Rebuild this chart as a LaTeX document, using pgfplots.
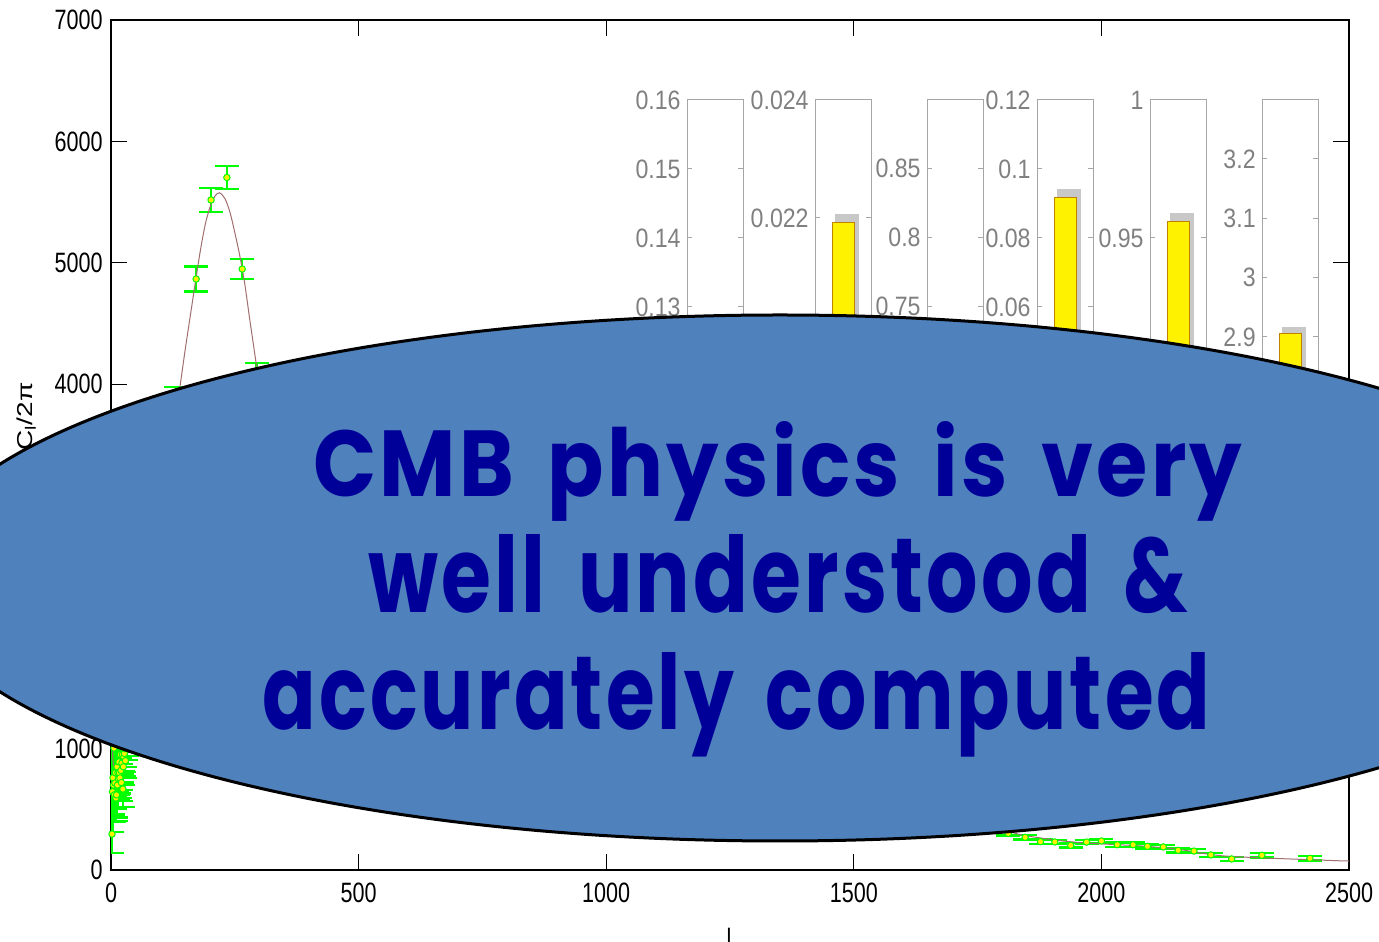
\documentclass[border=0pt]{standalone}
\usepackage{pgfplots}
\usepackage{pgfplotstable}
\pgfplotsset{compat=1.18}
\usepackage{graphicx}
\usepackage{fontspec}
\setmainfont{Liberation Sans}
\newfontfamily\narrowfont[FakeStretch=0.77]{Liberation Sans}
\newfontfamily\insetfont[FakeStretch=0.87]{Liberation Sans}
\newfontfamily\comicfont[LetterSpace=4, WordSpace=1.6]{Poppins}
\definecolor{ellblue}{HTML}{4F81BD}
\definecolor{txtblue}{HTML}{000099}
\definecolor{errgreen}{HTML}{00FF00}
\definecolor{theory}{HTML}{A06E6E}
\definecolor{boxgray}{HTML}{A6A6A6}
\definecolor{labgray}{HTML}{808080}
\definecolor{shadowgray}{HTML}{C8C8C8}
\definecolor{barborder}{HTML}{C08000}

\pgfplotstableread{
l D e
2 296 156
3 644 330
4 760 300
5 700 260
6 1004 280
7 620 220
8 716 210
9 800 200
10 593 190
11 618 185
12 850 200
13 700 180
14 800 180
15 750 175
16 890 180
17 800 170
18 758 165
19 950 170
20 820 160
21 720 155
22 880 160
23 950 160
24 667 150
25 850 150
26 930 155
27 960 150
28 1000 150
29 900 145
30 1050 145
32 1080 140
40 1230 120
70 1900 110
100 2750 100
131 3880 100
172 4867 103
202 5518 99
234 5703 95
265 4949 82
294 4080 95
325 3250 80
355 2560 70
385 2050 60
415 1820 55
445 1850 55
475 2080 60
505 2330 65
535 2500 65
565 2470 70
595 2230 70
625 1980 70
655 1800 70
685 1790 75
715 1900 80
745 2090 85
775 2250 90
805 2300 95
835 2220 100
865 2070 100
895 1700 100
925 1450 100
955 1230 100
985 1100 100
1015 1040 90
1045 1080 90
1075 1150 90
1105 1190 90
1135 1180 90
1165 1100 85
1195 990 80
1225 880 75
1255 780 70
1285 710 65
1315 690 60
1345 700 55
1375 710 50
1405 720 45
1435 700 40
1465 660 38
1495 600 35
1525 560 32
1555 500 30
1585 460 28
1615 440 26
1645 430 25
1675 420 24
1705 410 23
1735 390 22
1765 360 20
1812 302 18
1846 269 18
1877 233 18
1906 231 18
1938 203 18
1970 230 18
2000 239 18
2032 208 18
2064 208 18
2093 195 18
2125 190 18
2155 162 18
2187 156 18
2221 124 18
2263 91 18
2324 121 18
2421 96 18
}\cmbdata

\pgfplotstableread{
l D
2 1050
4 900
6 850
8 830
10 830
15 860
20 920
25 990
30 1060
40 1230
50 1420
60 1640
70 1880
80 2140
90 2420
100 2720
110 3040
120 3370
130 3700
140 4000
150 4290
160 4560
170 4830
180 5090
190 5310
200 5460
210 5550
219 5577
230 5530
240 5420
250 5250
260 5060
270 4830
280 4540
293 4175
300 3980
320 3400
340 2880
360 2440
380 2110
400 1900
420 1820
440 1840
460 1950
480 2120
500 2300
520 2440
540 2510
560 2480
580 2360
600 2190
620 2010
640 1870
660 1790
680 1780
700 1830
720 1930
740 2060
760 2180
780 2270
800 2310
820 2290
840 2200
860 2060
880 1880
900 1680
920 1490
940 1330
960 1200
980 1110
1000 1060
1020 1050
1040 1070
1060 1110
1080 1150
1100 1180
1120 1190
1140 1170
1160 1120
1180 1050
1200 970
1240 820
1280 720
1320 690
1360 700
1400 720
1440 710
1480 660
1520 580
1560 500
1600 450
1640 430
1680 420
1720 405
1760 375
1800 330
1840 288
1880 262
1920 240
1960 225
2000 215
2040 207
2080 198
2120 185
2160 168
2200 140
2240 118
2280 108
2320 100
2360 94
2400 88
2440 82
2480 76
2500 74
}\theorydata

\pgfplotsset{
  inset/.style={
    scale only axis, width=28pt, height=200pt, anchor=south west,
    xmin=0, xmax=1, xtick=\empty,
    axis line style={draw=boxgray, line width=0.5pt},
    tick align=inside, major tick length=2.5pt,
    ytick style={draw=boxgray, line width=0.5pt},
    ytick pos=both, yticklabel pos=left, scaled y ticks=false,
    yticklabel style={font=\insetfont\fontsize{13.3}{14}\selectfont, text=labgray, inner sep=0pt, xshift=-3pt,
      /pgf/number format/fixed, /pgf/number format/precision=3, /pgf/number format/assume math mode=true},
  },
}
\newcommand{\insetbars}[2]{%
  \addplot[ybar, bar width=12pt, bar shift=2pt, fill=shadowgray, draw=none] coordinates {(0.5,#2)};
  \addplot[ybar, bar width=11pt, bar shift=0pt, fill=yellow, draw=barborder, line width=0.5pt] coordinates {(0.5,#1)};
}

\begin{document}
\begin{tikzpicture}
\useasboundingbox (0,0) rectangle (689.5pt,470.5pt);

\begin{axis}[
  at={(55.5pt,35.5pt)}, anchor=south west, scale only axis,
  width=619pt, height=425pt,
  xmin=0, xmax=2500, ymin=0, ymax=7000,
  xtick={0,500,...,2500}, ytick={0,1000,...,7000},
  xtick pos=both, ytick pos=both,
  tick align=inside, major tick length=8pt,
  axis line style={line width=0.6pt, black},
  tick style={line width=0.6pt, black},
  xticklabel style={font=\narrowfont\fontsize{14}{14}\selectfont, inner sep=0pt, yshift=-6.5pt},
  yticklabel style={font=\narrowfont\fontsize{14}{14}\selectfont, inner sep=0pt, xshift=-4pt},
  /pgf/number format/set thousands separator={},
  /pgf/number format/assume math mode=true,
]
\addplot[only marks, mark=*, mark size=1.6pt,
  mark options={draw=errgreen, fill=yellow, line width=0.5pt},
  error bars/.cd, y dir=both, y explicit,
  error bar style={draw=errgreen, line width=1.1pt},
  error mark options={rotate=90, draw=errgreen, line width=1.1pt, mark size=6pt}]
  table[x=l, y=D, y error=e] {\cmbdata};
\addplot[theory, line width=0.5pt, smooth, no marks] table[x=l, y=D] {\theorydata};
\end{axis}

% inset panels
\begin{axis}[inset, at={(343.5pt,220.5pt)}, ymin=0.10203, ymax=0.16, ytick={0.11,0.12,0.13,0.14,0.15,0.16}]
\insetbars{0.125}{0.126}
\end{axis}
\begin{axis}[inset, at={(407.5pt,220.5pt)}, ymin=0.01722, ymax=0.024, ytick={0.018,0.02,0.022,0.024}]
\insetbars{0.02192}{0.02207}
\end{axis}
\begin{axis}[inset, at={(463.5pt,220.5pt)}, ymin=0.6097, ymax=0.8995, ytick={0.65,0.7,0.75,0.8,0.85}]
\insetbars{0.72}{0.725}
\end{axis}
\begin{axis}[inset, at={(518.5pt,220.5pt)}, ymin=0.004058, ymax=0.12, ytick={0.02,0.04,0.06,0.08,0.1,0.12}]
\insetbars{0.0916}{0.0942}
\end{axis}
\begin{axis}[inset, at={(575pt,220.5pt)}, ymin=0.85507, ymax=1, ytick={0.9,0.95,1}]
\insetbars{0.956}{0.959}
\end{axis}
\begin{axis}[inset, at={(631pt,220.5pt)}, ymin=2.625, ymax=3.2995, ytick={2.7,2.8,2.9,3,3.1,3.2}]
\insetbars{2.905}{2.917}
\end{axis}

% axis labels
\node[rotate=90, anchor=east, inner sep=0pt] at (13.5pt,279.5pt) {\scalebox{1}[0.77]{\fontsize{14}{14}\selectfont l(l+1)C\textsubscript{l}/2π}};
\node[anchor=north, inner sep=0pt, font=\narrowfont\fontsize{14}{14}\selectfont] at (364.5pt,6.5pt) {l};

% ellipse
\begin{scope}
\clip (0,0) rectangle (689.5pt,470.5pt);
\draw[fill=ellblue, draw=black, line width=1.5pt] (390pt,181.5pt) ellipse [x radius=432.5pt, y radius=131.5pt];
\end{scope}

\node[anchor=base west, inner sep=0pt, text=txtblue] at (156.5pt,222pt) {\resizebox{464.5pt}{37.5pt}{\comicfont\bfseries CMB physics is very}};
\node[anchor=base west, inner sep=0pt, text=txtblue] at (184pt,164pt) {\resizebox{410pt}{39pt}{\comicfont\bfseries well understood \&}};
\node[anchor=base west, inner sep=0pt, text=txtblue] at (131pt,105.5pt) {\resizebox{474pt}{38.5pt}{\comicfont\bfseries accurately computed}};
\end{tikzpicture}
\end{document}
